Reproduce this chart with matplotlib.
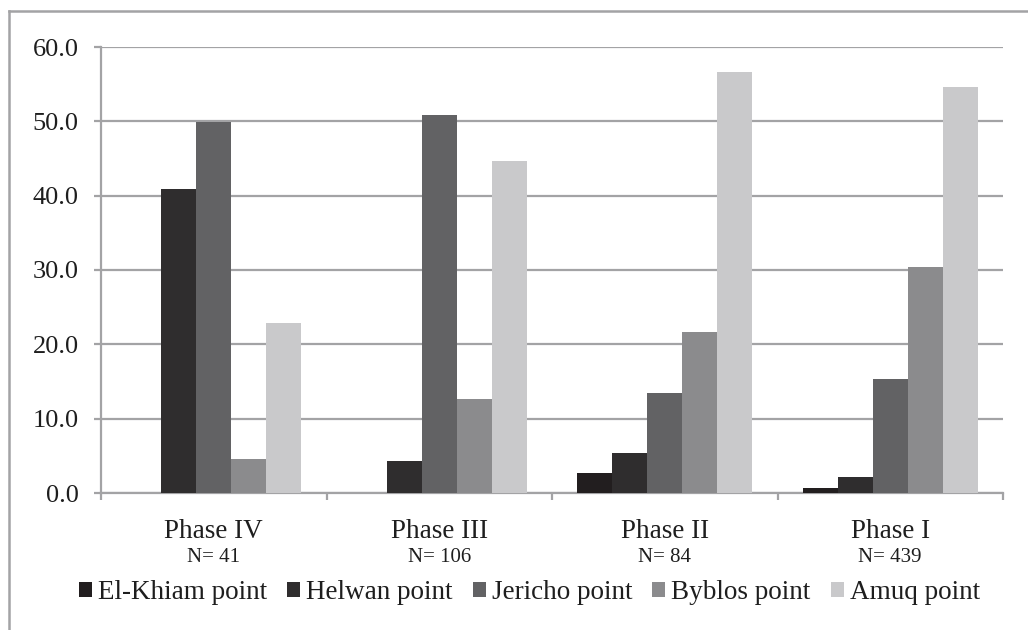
import numpy as np
import matplotlib.pyplot as plt
from matplotlib.patches import Patch
from matplotlib.lines import Line2D

plt.rcParams['font.family'] = ['Liberation Serif', 'DejaVu Serif']

phases = ['Phase IV', 'Phase III', 'Phase II', 'Phase I']
counts = ['N= 41', 'N= 106', 'N= 84', 'N= 439']
series = ['El-Khiam point', 'Helwan point', 'Jericho point', 'Byblos point', 'Amuq point']
el_khiam = [0.0, 0.0, 2.7, 0.7]
helwan = [40.9, 4.3, 5.4, 2.2]
jericho = [49.9, 50.9, 13.5, 15.3]
byblos = [4.6, 12.7, 21.7, 30.4]
amuq = [22.9, 44.7, 56.7, 54.6]
colors = ['#221e1f', '#2f2d2e', '#626264', '#8b8b8d', '#c9c9cb']

values = [el_khiam, helwan, jericho, byblos, amuq]
txt = '#1e1e1e'
grid = '#a3a3a5'

fig = plt.figure(figsize=(10.28, 6.30), dpi=100)
ax = fig.add_axes([101 / 1028, 1 - 493 / 630, 902 / 1028, 446 / 630])

x = np.arange(len(phases))
w = 0.155
for k, (vals, c) in enumerate(zip(values, colors)):
    ax.bar(x + (k - 2) * w, vals, w, color=c, zorder=3)

ax.set_xlim(-0.5, 3.5)
ax.set_ylim(0, 60)
ax.set_yticks(np.arange(0, 61, 10))
ax.set_yticklabels([f'{v:.1f}' for v in np.arange(0, 61, 10)])
ax.yaxis.grid(True, color=grid, linewidth=1.6, zorder=0)
ax.set_axisbelow(True)

for s in ['top', 'right']:
    ax.spines[s].set_visible(False)
for s in ['left', 'bottom']:
    ax.spines[s].set_color(grid)
    ax.spines[s].set_linewidth(1.6)

ax.tick_params(axis='y', length=5, width=1.6, color=grid, pad=11,
               labelsize=19, labelcolor=txt)
ax.set_xticks(x)
ax.set_xticklabels([])
ax.tick_params(axis='x', which='major', length=0)
ax.set_xticks(np.arange(-0.5, 3.6, 1), minor=True)
ax.tick_params(axis='x', which='minor', length=5, width=1.6, color=grid, direction='out')

for i, (p, n) in enumerate(zip(phases, counts)):
    ax.annotate(p, xy=(i, 0), xycoords=('data', 'axes fraction'),
                xytext=(0, -32.5), textcoords='offset points',
                ha='center', va='baseline', fontsize=19.5, color=txt)
    ax.annotate(n, xy=(i, 0), xycoords=('data', 'axes fraction'),
                xytext=(0, -50), textcoords='offset points',
                ha='center', va='baseline', fontsize=15, color=txt)

handles = [Patch(facecolor=c, edgecolor='none') for c in colors]
fig.legend(handles, series, loc='center', bbox_to_anchor=(0.515, 0.06), ncol=5,
           frameon=False, fontsize=19.5, handlelength=0.48, handleheight=0.48,
           handletextpad=0.22, columnspacing=0.74, labelcolor=txt)

# outer frame (left and top edges visible)
fig.add_artist(Line2D([9 / 1028, 9 / 1028], [0, 1 - 11 / 630], color=grid, linewidth=1.8))
fig.add_artist(Line2D([9 / 1028, 1], [1 - 11 / 630, 1 - 11 / 630], color=grid, linewidth=1.8))

fig.savefig('out.png', dpi=100)
